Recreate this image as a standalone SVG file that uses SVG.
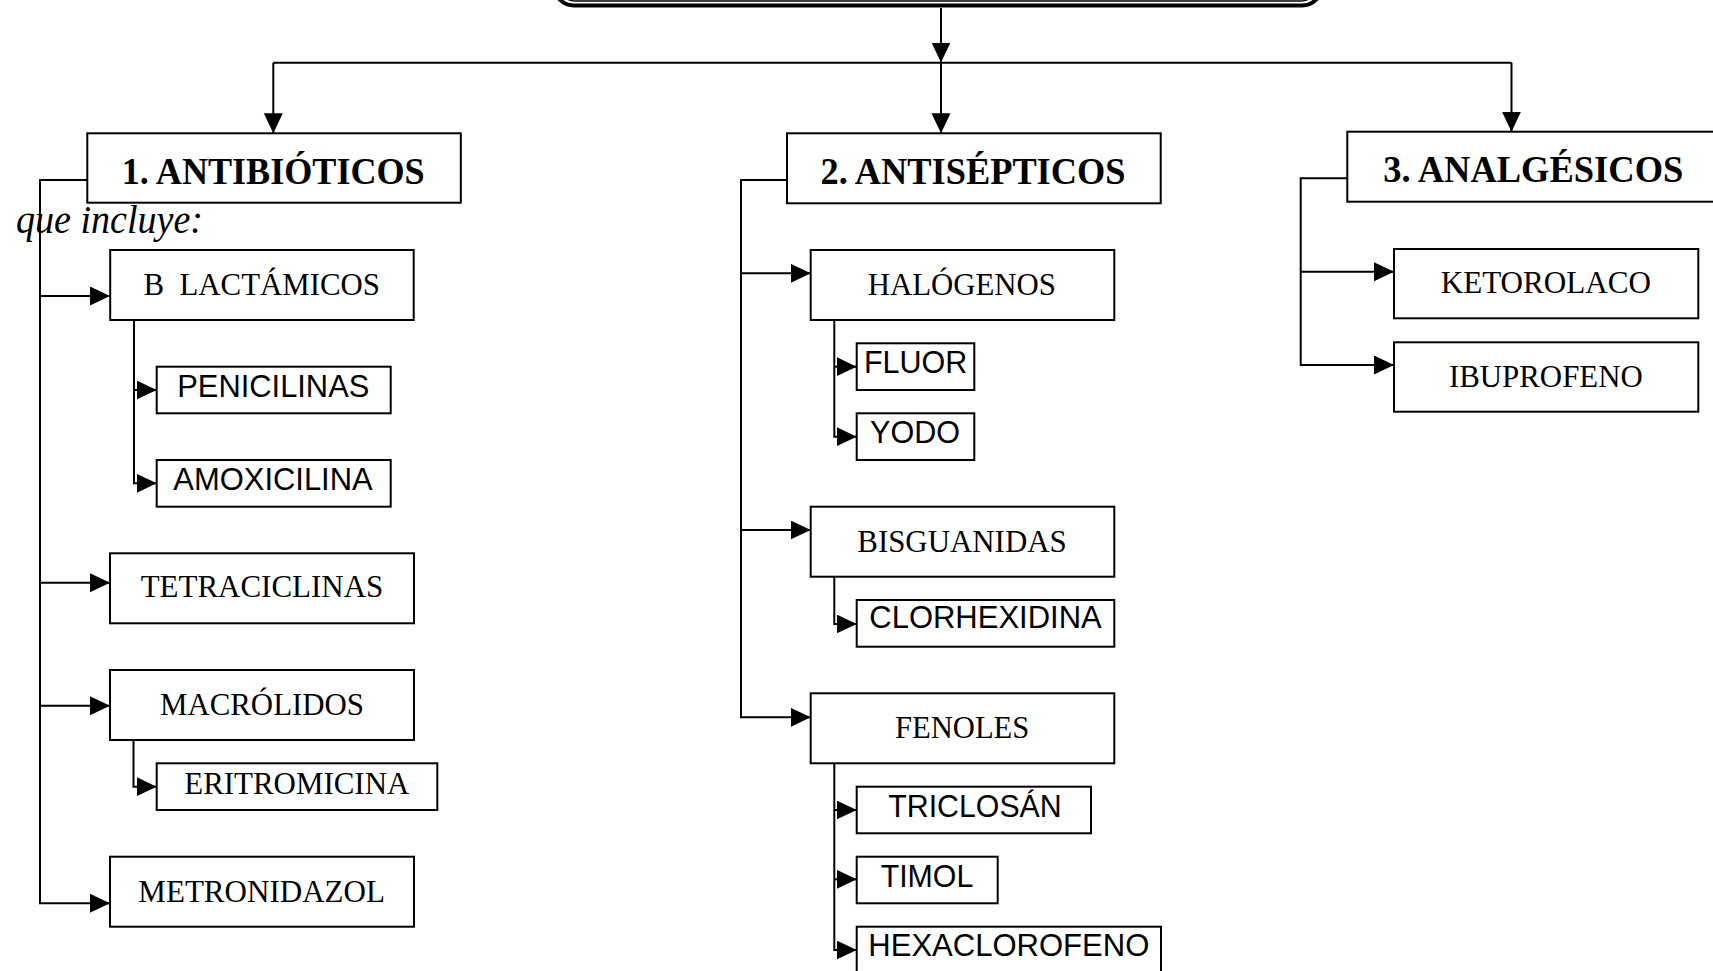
<svg xmlns="http://www.w3.org/2000/svg" width="1713" height="971" viewBox="0 0 1713 971">
  <style>
    .box { fill: #fff; stroke: #000; stroke-width: 2; }
    .wire { fill: none; stroke: #000; stroke-width: 2; }
    .arr { marker-end: url(#head); }
    .head { font-family: "Liberation Serif", "Times New Roman", serif; font-weight: bold; font-size: 37.5px; fill: #000; }
    .sub { font-family: "Liberation Serif", "Times New Roman", serif; font-size: 31px; fill: #000; white-space: pre; }
    .leaf { font-family: "Liberation Sans", Arial, sans-serif; font-size: 31px; fill: #000; }
    .note { font-family: "Liberation Serif", "Times New Roman", serif; font-style: italic; font-size: 40px; fill: #000; }
  </style>
  <defs>
    <marker id="head" markerUnits="userSpaceOnUse" markerWidth="21" markerHeight="20" refX="20" refY="9.5" orient="auto">
      <path d="M0,0 L20,9.5 L0,19 Z" fill="#000"/>
    </marker>
  </defs>

  <rect width="1713" height="971" fill="#fff"/>

  <!-- title frame (double rounded border, top lies outside the page) -->
  <g id="title">
    <rect x="554" y="-70" width="768" height="75.5" rx="20" fill="#fff" stroke="#000" stroke-width="4"/>
    <rect x="559" y="-70" width="758" height="71" rx="16" fill="none" stroke="#000" stroke-width="1.5"/>
  </g>

  <!-- connectors -->
  <g id="connectors">
    <!-- top distribution -->
    <path class="wire arr" d="M941,8 V62.5"/>
    <path class="wire" d="M273.3,62.7 H1511.5"/>
    <path class="wire arr" d="M273.3,62.7 V133.3"/>
    <path class="wire arr" d="M941,62.7 V133.3"/>
    <path class="wire arr" d="M1511.5,62.7 V131.7"/>

    <!-- antibióticos -->
    <path class="wire arr" d="M87.3,180 H40 V903.3 H110"/>
    <path class="wire arr" d="M40,296 H110"/>
    <path class="wire arr" d="M40,582.7 H110"/>
    <path class="wire arr" d="M40,705.7 H110"/>
    <path class="wire arr" d="M134,320 V483.3 H156.7"/>
    <path class="wire arr" d="M134,390 H156.7"/>
    <path class="wire arr" d="M133.5,740 V786.7 H156.7"/>

    <!-- antisépticos -->
    <path class="wire arr" d="M787,180 H741 V717.3 H810.7"/>
    <path class="wire arr" d="M741,273.3 H810.7"/>
    <path class="wire arr" d="M741,530 H810.7"/>
    <path class="wire arr" d="M834.3,320 V436.7 H856.7"/>
    <path class="wire arr" d="M834.3,366.7 H856.7"/>
    <path class="wire arr" d="M834.3,576.7 V624 H856.7"/>
    <path class="wire arr" d="M834.3,763.3 V950 H856.7"/>
    <path class="wire arr" d="M834.3,810 H856.7"/>
    <path class="wire arr" d="M834.3,879.3 H856.7"/>

    <!-- analgésicos -->
    <path class="wire arr" d="M1347.3,178.3 H1300.7 V365 H1394"/>
    <path class="wire arr" d="M1300.7,271.7 H1394"/>
  </g>

  <!-- 1. antibióticos -->
  <g id="antibioticos">
    <rect class="box" x="87.3" y="133.3" width="373.5" height="69.4"/>
    <text class="head" x="121.7" y="184" textLength="303" lengthAdjust="spacingAndGlyphs">1. ANTIBIÓTICOS</text>
  </g>
  <g id="que-incluye">
    <text class="note" x="16" y="233.3" textLength="187" lengthAdjust="spacingAndGlyphs">que incluye:</text>
  </g>
  <g id="b-lactamicos">
    <rect class="box" x="110.2" y="250" width="303.5" height="70"/>
    <text class="sub" x="143.5" y="294.7" textLength="236.5" lengthAdjust="spacingAndGlyphs">B  LACTÁMICOS</text>
  </g>
  <g id="penicilinas">
    <rect class="box" x="156.7" y="366.7" width="234" height="46.6"/>
    <text class="leaf" x="177.3" y="397.3" textLength="192" lengthAdjust="spacingAndGlyphs">PENICILINAS</text>
  </g>
  <g id="amoxicilina">
    <rect class="box" x="156.7" y="460" width="234" height="46.7"/>
    <text class="leaf" x="173.3" y="490" textLength="199.4" lengthAdjust="spacingAndGlyphs">AMOXICILINA</text>
  </g>
  <g id="tetraciclinas">
    <rect class="box" x="110" y="553.3" width="304" height="70"/>
    <text class="sub" x="140.7" y="597.3" textLength="242.6" lengthAdjust="spacingAndGlyphs">TETRACICLINAS</text>
  </g>
  <g id="macrolidos">
    <rect class="box" x="110" y="670" width="304" height="70"/>
    <text class="sub" x="160" y="715" textLength="204" lengthAdjust="spacingAndGlyphs">MACRÓLIDOS</text>
  </g>
  <g id="eritromicina">
    <rect class="box" x="156.7" y="763.3" width="280.6" height="46.7"/>
    <text class="sub" x="184.3" y="794" textLength="225" lengthAdjust="spacingAndGlyphs">ERITROMICINA</text>
  </g>
  <g id="metronidazol">
    <rect class="box" x="110" y="856.7" width="304" height="70"/>
    <text class="sub" x="138.3" y="901.7" textLength="246.7" lengthAdjust="spacingAndGlyphs">METRONIDAZOL</text>
  </g>

  <!-- 2. antisépticos -->
  <g id="antisepticos">
    <rect class="box" x="787" y="133.3" width="373.7" height="70"/>
    <text class="head" x="820.5" y="184" textLength="305" lengthAdjust="spacingAndGlyphs">2. ANTISÉPTICOS</text>
  </g>
  <g id="halogenos">
    <rect class="box" x="810.7" y="250" width="303.6" height="70"/>
    <text class="sub" x="867.7" y="295" textLength="188.3" lengthAdjust="spacingAndGlyphs">HALÓGENOS</text>
  </g>
  <g id="fluor">
    <rect class="box" x="856.7" y="343.3" width="117.6" height="46.7"/>
    <text class="leaf" x="864" y="372.7" textLength="103.3" lengthAdjust="spacingAndGlyphs">FLUOR</text>
  </g>
  <g id="yodo">
    <rect class="box" x="856.7" y="413.3" width="117.6" height="46.7"/>
    <text class="leaf" x="870" y="442.7" textLength="90" lengthAdjust="spacingAndGlyphs">YODO</text>
  </g>
  <g id="bisguanidas">
    <rect class="box" x="810.7" y="506.7" width="303.6" height="70"/>
    <text class="sub" x="857.3" y="551.7" textLength="209.4" lengthAdjust="spacingAndGlyphs">BISGUANIDAS</text>
  </g>
  <g id="clorhexidina">
    <rect class="box" x="856.7" y="600" width="257.6" height="46.7"/>
    <text class="leaf" x="869.3" y="628.3" textLength="232.4" lengthAdjust="spacingAndGlyphs">CLORHEXIDINA</text>
  </g>
  <g id="fenoles">
    <rect class="box" x="810.7" y="693.3" width="303.6" height="70"/>
    <text class="sub" x="895" y="738.3" textLength="134.3" lengthAdjust="spacingAndGlyphs">FENOLES</text>
  </g>
  <g id="triclosan">
    <rect class="box" x="856.7" y="786.7" width="234.3" height="46.6"/>
    <text class="leaf" x="888.3" y="816.7" textLength="173.4" lengthAdjust="spacingAndGlyphs">TRICLOSÁN</text>
  </g>
  <g id="timol">
    <rect class="box" x="856.7" y="856.7" width="141" height="46.6"/>
    <text class="leaf" x="880.7" y="886.7" textLength="92.6" lengthAdjust="spacingAndGlyphs">TIMOL</text>
  </g>
  <g id="hexaclorofeno">
    <rect class="box" x="856.7" y="926.7" width="304.3" height="60"/>
    <text class="leaf" x="868.3" y="956" textLength="281" lengthAdjust="spacingAndGlyphs">HEXACLOROFENO</text>
  </g>

  <!-- 3. analgésicos -->
  <g id="analgesicos">
    <rect class="box" x="1347.3" y="131.7" width="380" height="70"/>
    <text class="head" x="1383.3" y="181.7" textLength="300" lengthAdjust="spacingAndGlyphs">3. ANALGÉSICOS</text>
  </g>
  <g id="ketorolaco">
    <rect class="box" x="1394" y="249" width="304.3" height="69.3"/>
    <text class="sub" x="1440.7" y="292.7" textLength="210.3" lengthAdjust="spacingAndGlyphs">KETOROLACO</text>
  </g>
  <g id="ibuprofeno">
    <rect class="box" x="1394" y="342.3" width="304.3" height="69.4"/>
    <text class="sub" x="1449" y="386.7" textLength="193.7" lengthAdjust="spacingAndGlyphs">IBUPROFENO</text>
  </g>
</svg>
